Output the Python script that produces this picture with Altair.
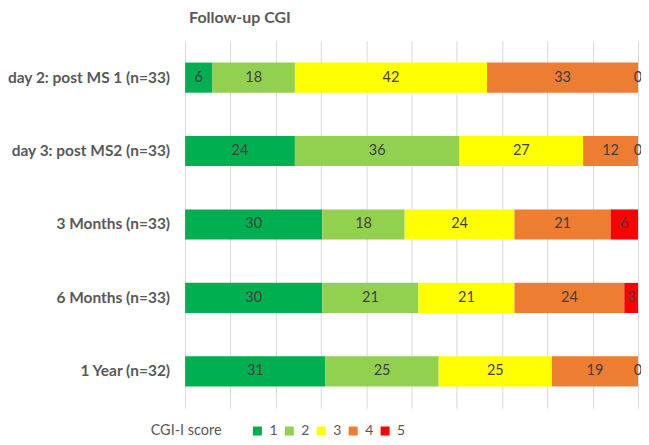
import altair as alt
import pandas as pd

categories = ["day 2: post MS 1 (n=33)", "day 3: post MS2 (n=33)",
              "3 Months (n=33)", "6 Months (n=33)", "1 Year (n=32)"]
scores = ["1", "2", "3", "4", "5"]
score1 = [6, 24, 30, 30, 31]
score2 = [18, 36, 18, 21, 25]
score3 = [42, 27, 24, 21, 25]
score4 = [33, 12, 21, 24, 19]
score5 = [0, 0, 6, 3, 0]
colors = ["#00B050", "#92D050", "#FFFF00", "#ED7D31", "#FF0000"]

series = [score1, score2, score3, score4, score5]
rows = []
for s, vals in zip(scores, series):
    for c, v in zip(categories, vals):
        rows.append({"cat": c, "score": s, "value": v, "order": int(s)})
df = pd.DataFrame(rows)

FONT = "Lato"

base = alt.Chart(df).transform_joinaggregate(
    total="sum(value)", groupby=["cat"]
).transform_window(
    cum="sum(value)", groupby=["cat"], sort=[alt.SortField("order")],
    frame=[None, 0]
).transform_calculate(
    x1="(datum.cum - datum.value) / datum.total",
    x2="datum.cum / datum.total",
    xm="(datum.cum - datum.value / 2) / datum.total",
)

y_enc = alt.Y("cat:N", sort=categories, title=None,
              scale=alt.Scale(paddingInner=0.59, paddingOuter=0.295),
              axis=alt.Axis(labelFont=FONT, labelFontSize=15.5, labelFontWeight="bold",
                            labelColor="#595959", labelPadding=15.5, ticks=False,
                            domain=False, grid=False, labelLimit=300))

bars = base.mark_bar().encode(
    x=alt.X("x1:Q", scale=alt.Scale(domain=[0, 1], nice=False), title=None,
            axis=alt.Axis(values=[i / 10 for i in range(11)], labels=False, ticks=False,
                          domain=False, grid=True, gridColor="#D9D9D9", gridWidth=1)),
    x2="x2:Q",
    y=y_enc,
    color=alt.Color("score:N", sort=scores,
                    scale=alt.Scale(domain=scores, range=colors),
                    legend=alt.Legend(title="CGI-I score", orient="none", direction="horizontal",
                                      titleOrient="left", legendX=-34.5, legendY=384,
                                      titleFont=FONT, titleFontSize=14.5, titleFontWeight="normal",
                                      titleColor="#595959", titlePadding=28,
                                      labelFont=FONT, labelFontSize=14, labelColor="#595959",
                                      labelOffset=5, columnPadding=4,
                                      symbolType="square", symbolSize=81,
                                      symbolStrokeWidth=0, symbolOpacity=1)),
    order=alt.Order("order:Q"),
)

labels = base.mark_text(font=FONT, fontSize=14.5, color="#404040", baseline="middle").encode(
    x=alt.X("xm:Q"),
    y=alt.Y("cat:N", sort=categories),
    text=alt.Text("value:Q"),
)

chart = alt.layer(bars, labels).properties(
    width=454, height=368,
    title=alt.TitleParams("Follow-up CGI", anchor="start", frame="group", dx=4, offset=15,
                          font=FONT, fontSize=16, fontWeight="bold", color="#595959"),
    padding={"left": 177.5, "top": 32.5, "right": 3, "bottom": 28},
    autosize=alt.AutoSizeParams(type="none"),
).configure_view(stroke=None)

chart.save("out.html", embed_options={"renderer": "svg", "actions": False})
